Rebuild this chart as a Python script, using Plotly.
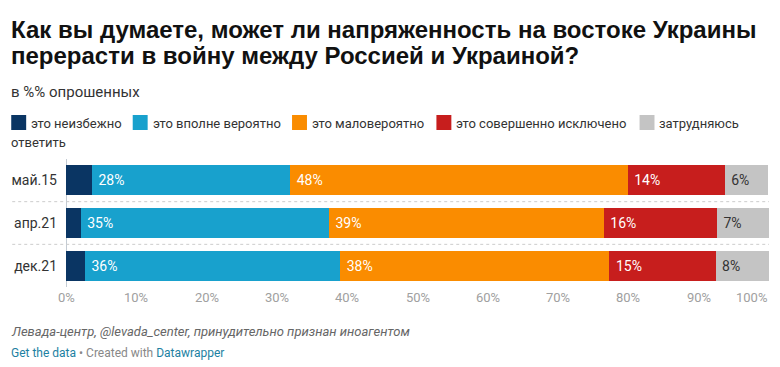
import plotly.graph_objects as go

# ---- data ----
categories = ["май.15", "апр.21", "дек.21"]
series_names = ["это неизбежно", "это вполне вероятно", "это маловероятно",
                "это совершенно исключено", "затрудняюсь ответить"]
neizbezhno = [3.7, 2.1, 2.7]
vpolne = [28.2, 35.3, 36.3]
malo = [48.0, 39.1, 38.3]
isklyucheno = [13.8, 16.1, 15.1]
zatrud = [6.2, 7.4, 7.6]
x_ticks = [0, 10, 20, 30, 40, 50, 60, 70, 80, 90, 100]
x_tick_labels = ["0%", "10%", "20%", "30%", "40%", "50%", "60%", "70%", "80%", "90%", "100%"]

title_lines = ["Как вы думаете, может ли напряженность на востоке Украины",
               "перерасти в войну между Россией и Украиной?"]
subtitle_text = "в %% опрошенных"
source_text = "Левада-центр, @levada_center, принудительно признан иноагентом"

# ---- styles ----
colors = ["#0a3563", "#18a1cd", "#fa8c00", "#c71e1d", "#c4c4c4"]
text_colors = ["white", "white", "white", "white", "#333333"]
FONT = "Roboto"

W, H = 780, 367
L, R, T, B = 63, 11, 159, 80


def px_x(px):
    return (px - L) / (W - L - R)


def px_y(py):
    return (H - B - py) / (H - T - B)


values = [neizbezhno, vpolne, malo, isklyucheno, zatrud]

fig = go.Figure()
for i, (name, vals) in enumerate(zip(series_names, values)):
    fig.add_trace(go.Bar(
        y=categories, x=vals, name=name, orientation="h",
        marker=dict(color=colors[i], line=dict(width=0)),
        texttemplate="" if i == 0 else "\u00a0%{x:.0f}%",
        textposition="inside", insidetextanchor="start",
        textfont=dict(family=FONT, size=14, color=text_colors[i]),
        constraintext="none",
        hoverinfo="skip", showlegend=False,
    ))

shapes = []
annotations = []

# dotted separators between rows
for yv in [0.5, 1.5]:
    shapes.append(dict(type="line", xref="paper", yref="y",
                       x0=px_x(9), x1=px_x(769), y0=yv, y1=yv,
                       line=dict(color="#cccccc", width=1, dash="dot")))

# title / subtitle
for line, cy in zip(title_lines, [29, 55]):
    annotations.append(dict(text="<b>" + line + "</b>", xref="paper", yref="paper",
                            x=px_x(6), y=px_y(cy), xanchor="left", yanchor="middle",
                            showarrow=False,
                            font=dict(family="Liberation Sans", size=24, color="#111111")))
annotations.append(dict(text=subtitle_text, xref="paper", yref="paper",
                        x=px_x(6), y=px_y(92), xanchor="left", yanchor="middle",
                        showarrow=False, font=dict(family=FONT, size=15, color="#333333")))

# legend (manual, to allow wrapped last item)
legend_text_x = [27, 149, 309, 454, 658]
legend_labels = ["это неизбежно", "это вполне вероятно", "это маловероятно",
                 "это совершенно исключено", "затрудняюсь"]
for i, tx in enumerate(legend_text_x):
    shapes.append(dict(type="rect", xref="paper", yref="paper",
                       x0=px_x(tx - 19), x1=px_x(tx - 4), y0=px_y(130), y1=px_y(115),
                       fillcolor=colors[i], line=dict(width=0)))
    annotations.append(dict(text=legend_labels[i], xref="paper", yref="paper",
                            x=px_x(tx - 1), y=px_y(123), xanchor="left", yanchor="middle",
                            showarrow=False, font=dict(family=FONT, size=13, color="#333333")))
annotations.append(dict(text="ответить", xref="paper", yref="paper",
                        x=px_x(6), y=px_y(142), xanchor="left", yanchor="middle",
                        showarrow=False, font=dict(family=FONT, size=13, color="#333333")))

# x tick labels
for v, lab in zip(x_ticks, x_tick_labels):
    annotations.append(dict(text=lab, xref="x", yref="paper",
                            x=v, y=px_y(297), xanchor="right" if v == 100 else "center",
                            yanchor="middle", showarrow=False,
                            font=dict(family=FONT, size=13, color="#a0a0a0")))

# footer
annotations.append(dict(text="<i>" + source_text + "</i>", xref="paper", yref="paper",
                        x=px_x(6), y=px_y(331), xanchor="left", yanchor="middle",
                        showarrow=False, font=dict(family=FONT, size=13, color="#666666")))
annotations.append(dict(
    text="<span style='color:#1d81a2'>Get the data</span> • Created with <span style='color:#1d81a2'>Datawrapper</span>",
    xref="paper", yref="paper", x=px_x(6), y=px_y(353), xanchor="left", yanchor="middle",
    showarrow=False, font=dict(family=FONT, size=12, color="#888888")))

fig.update_layout(
    width=W, height=H,
    margin=dict(l=L, r=R, t=T, b=B, pad=0),
    barmode="stack", bargap=0.29,
    plot_bgcolor="white", paper_bgcolor="white",
    font=dict(family=FONT, size=13, color="#333333"),
    xaxis=dict(range=[0, 100], tickvals=x_ticks, showticklabels=False,
               showgrid=True, gridcolor="rgba(255,255,255,0.35)", gridwidth=1,
               zeroline=True, zerolinecolor="rgba(180,190,200,0.8)", zerolinewidth=1,
               layer="above traces", fixedrange=True),
    yaxis=dict(range=[2.5, -0.5], ticks="", showgrid=False, zeroline=False,
               tickfont=dict(family=FONT, size=14, color="#333333"),
               ticklabelstandoff=8, fixedrange=True),
    shapes=shapes, annotations=annotations,
    showlegend=False,
)

fig.write_html("out.html", config={"displayModeBar": False},
               post_script="document.body.style.margin='0';document.body.style.overflow='hidden';")
